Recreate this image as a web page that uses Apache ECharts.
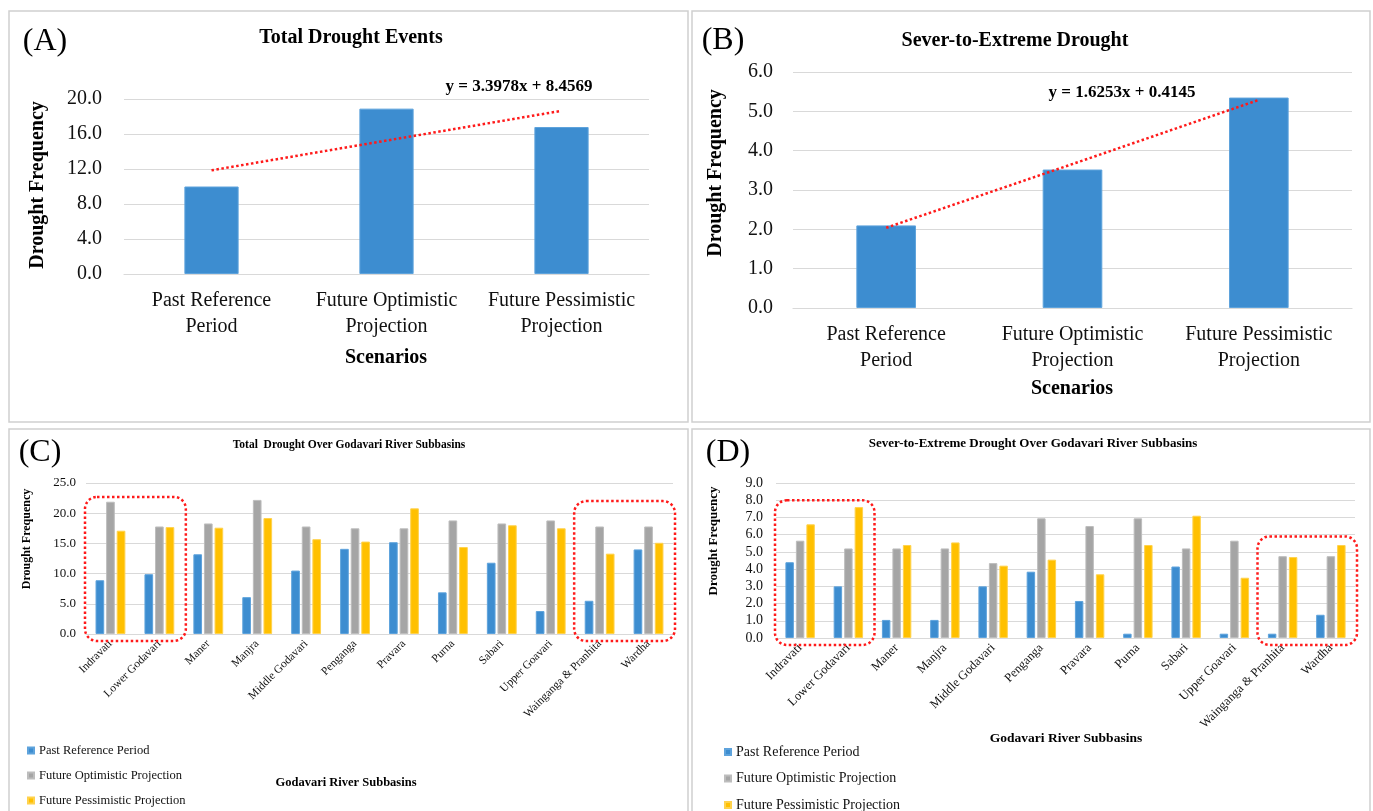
<!DOCTYPE html>
<html>
<head>
<meta charset="utf-8">
<script src="https://cdn.jsdelivr.net/npm/echarts@6/dist/echarts.min.js"></script>
<style>
  html, body { margin: 0; padding: 0; background: #fff; }
  #main { width: 1373px; height: 811px; }
</style>
</head>
<body>
<div id="main"></div>
<script>
// scenarios (panels A and B)
const scenarios = ['Past Reference\nPeriod', 'Future Optimistic\nProjection', 'Future Pessimistic\nProjection'];
const totalEvents = [10.0, 18.9, 16.8];
const totalTrend = [11.85, 15.25, 18.65];
const severeEvents = [2.1, 3.52, 5.35];
const severeTrend = [2.04, 3.66, 5.29];

// subbasins (panels C and D)
const subbasins = ['Indravati', 'Lower Godavari', 'Maner', 'Manjra', 'Middle Godavari', 'Penganga',
  'Pravara', 'Purna', 'Sabari', 'Upper Goavari', 'Wainganga & Pranhita', 'Wardha'];
const totalPast = [8.9, 9.9, 13.2, 6.1, 10.5, 14.1, 15.2, 6.9, 11.8, 3.8, 5.5, 14.0];
const totalOpt = [21.9, 17.8, 18.3, 22.2, 17.8, 17.5, 17.5, 18.8, 18.3, 18.8, 17.8, 17.8];
const totalPes = [17.1, 17.7, 17.6, 19.2, 15.7, 15.3, 20.8, 14.4, 18.0, 17.5, 13.3, 15.1];
const severePast = [4.4, 3.0, 1.05, 1.05, 3.0, 3.85, 2.15, 0.25, 4.15, 0.25, 0.25, 1.35];
const severeOpt = [5.65, 5.2, 5.2, 5.2, 4.35, 6.95, 6.5, 6.95, 5.2, 5.65, 4.75, 4.75];
const severePes = [6.6, 7.6, 5.4, 5.55, 4.2, 4.55, 3.7, 5.4, 7.1, 3.5, 4.7, 5.4];

const serieNames = ['Past Reference Period', 'Future Optimistic Projection', 'Future Pessimistic Projection'];
const FONT = '"Liberation Serif", "Times New Roman", serif';
const BLUE = '#3d8dd0', GRAY = '#a5a5a5', YELLOW = '#ffc000';

const chart = echarts.init(document.getElementById('main'));

function valAxis(grid, max, step, size, margin) {
  return {
    type: 'value', gridIndex: grid, min: 0, max: max, interval: step,
    axisLine: { show: false }, axisTick: { show: false },
    axisLabel: { fontFamily: FONT, fontSize: size, color: '#111', margin: margin,
      formatter: v => v.toFixed(1) },
    splitLine: { lineStyle: { color: '#d9d9d9', width: 1.2 } }
  };
}
function catAxis(grid, data, label) {
  return {
    type: 'category', gridIndex: grid, data: data,
    axisTick: { show: false },
    axisLine: { lineStyle: { color: '#d9d9d9', width: 1.2 } },
    axisLabel: Object.assign({ fontFamily: FONT, color: '#111', interval: 0 }, label)
  };
}
function bar(idx, name, data, color, border, gap, catGap) {
  return {
    type: 'bar', name: name, xAxisIndex: idx, yAxisIndex: idx, data: data,
    barGap: gap, barCategoryGap: catGap,
    itemStyle: { color: color, borderColor: border, borderWidth: 1 }
  };
}
function trend(idx, data) {
  return {
    type: 'line', xAxisIndex: idx, yAxisIndex: idx, data: data, symbol: 'none', z: 5,
    lineStyle: { color: '#ff1a1a', width: 2.5, type: [2.5, 2.5] }
  };
}

const option = {
  backgroundColor: '#fff',
  animation: false,
  grid: [
    { left: 124, top: 99, width: 525, height: 175 },
    { left: 793, top: 72, width: 559, height: 236 },
    { left: 86, top: 483, width: 587, height: 151 },
    { left: 776, top: 483, width: 579, height: 155 }
  ],
  xAxis: [
    catAxis(0, scenarios, { fontSize: 20, lineHeight: 26, margin: 14 }),
    catAxis(1, scenarios, { fontSize: 20, lineHeight: 26, margin: 14 }),
    catAxis(2, subbasins, { fontSize: 11.5, rotate: 45, margin: 8 }),
    catAxis(3, subbasins, { fontSize: 12.5, rotate: 45, margin: 8 })
  ],
  yAxis: [
    valAxis(0, 20, 4, 20, 22),
    valAxis(1, 6, 1, 20, 20),
    valAxis(2, 25, 5, 13, 10),
    valAxis(3, 9, 1, 14, 13)
  ],
  legend: [
    { data: serieNames, orient: 'vertical', left: 27, top: 744, height: 120, itemGap: 12,
      padding: 0, itemWidth: 6, itemHeight: 6, icon: 'rect',
      textStyle: { fontFamily: FONT, fontSize: 12.5, color: '#111' } },
    { data: serieNames, orient: 'vertical', left: 724, top: 745, height: 120, itemGap: 12.5,
      padding: 0, itemWidth: 6, itemHeight: 6, icon: 'rect',
      textStyle: { fontFamily: FONT, fontSize: 14, color: '#111' } }
  ],
  series: [
    bar(0, 'A', totalEvents, BLUE, '#5ea3dc', '0%', '69%'),
    trend(0, totalTrend),
    bar(1, 'B', severeEvents, BLUE, '#5ea3dc', '0%', '68%'),
    trend(1, severeTrend),
    bar(2, serieNames[0], totalPast, BLUE, '#5ea3dc', '22%', '39%'),
    bar(2, serieNames[1], totalOpt, GRAY, '#bdbdbd', '22%', '39%'),
    bar(2, serieNames[2], totalPes, YELLOW, '#ffd24d', '22%', '39%'),
    bar(3, serieNames[0], severePast, BLUE, '#5ea3dc', '24%', '39%'),
    bar(3, serieNames[1], severeOpt, GRAY, '#bdbdbd', '24%', '39%'),
    bar(3, serieNames[2], severePes, YELLOW, '#ffd24d', '24%', '39%')
  ]
};
chart.setOption(option);

// texts and frames
function txt(text, x, y, font, extra) {
  return Object.assign({ type: 'text', x: x, y: y, z: 10,
    style: { text: text, font: font, fill: '#000', textAlign: 'center', verticalAlign: 'middle' } }, extra || {});
}
function frame(x, y, w, h) {
  return { type: 'rect', z: 0, shape: { x: x, y: y, width: w, height: h },
    style: { fill: 'none', stroke: '#d0d0d0', lineWidth: 1.5 } };
}
const g = [
  frame(9, 11, 679, 411), frame(692, 11, 678, 411),
  frame(9, 429, 679, 400), frame(692, 429, 678, 400),
  txt('(A)', 45, 42, '32px ' + FONT),
  txt('(B)', 723, 41, '32px ' + FONT),
  txt('(C)', 40, 453, '32px ' + FONT),
  txt('(D)', 728, 453, '32px ' + FONT),
  txt('Total Drought Events', 351, 38, 'bold 20px ' + FONT),
  txt('Sever-to-Extreme Drought', 1015, 41, 'bold 20px ' + FONT),
  txt('Total  Drought Over Godavari River Subbasins', 349, 445, 'bold 11.5px ' + FONT),
  txt('Sever-to-Extreme Drought Over Godavari River Subbasins', 1033, 444, 'bold 13px ' + FONT),
  txt('Drought Frequency', 38, 185, 'bold 20px ' + FONT, { rotation: Math.PI / 2 }),
  txt('Drought Frequency', 716, 173, 'bold 20px ' + FONT, { rotation: Math.PI / 2 }),
  txt('Drought Frequency', 27, 539, 'bold 12px ' + FONT, { rotation: Math.PI / 2 }),
  txt('Drought Frequency', 714, 541, 'bold 13px ' + FONT, { rotation: Math.PI / 2 }),
  txt('Scenarios', 386, 358, 'bold 20px ' + FONT),
  txt('Scenarios', 1072, 389, 'bold 20px ' + FONT),
  txt('Godavari River Subbasins', 346, 783, 'bold 12.5px ' + FONT),
  txt('Godavari River Subbasins', 1066, 739, 'bold 13.5px ' + FONT),
  txt('y = 3.3978x + 8.4569', 519, 87, 'bold 17px ' + FONT),
  txt('y = 1.6253x + 0.4145', 1122, 93, 'bold 17px ' + FONT)
];

// dotted highlight boxes, placed through the axes
const boxes = [
  { grid: 2, from: 0, to: 1, top: 22.7 },
  { grid: 2, from: 10, to: 11, top: 22.0 },
  { grid: 3, from: 0, to: 1, top: 8.0 },
  { grid: 3, from: 10, to: 11, top: 5.9 }
];
boxes.forEach(b => {
  const a = chart.convertToPixel({ gridIndex: b.grid }, [b.from, b.top]);
  const a2 = chart.convertToPixel({ gridIndex: b.grid }, [b.from + 1, 0]);
  const c = chart.convertToPixel({ gridIndex: b.grid }, [b.to, 0]);
  const w = a2[0] - a[0];
  const x0 = a[0] - w / 2 - 1, x1 = c[0] + w / 2 + 2;
  const y0 = a[1], y1 = c[1] + 7;
  g.push({ type: 'rect', z: 20, shape: { x: x0, y: y0, width: x1 - x0, height: y1 - y0, r: 12 },
    style: { fill: 'none', stroke: '#ff1a1a', lineWidth: 2.5, lineDash: [2.5, 2.5] } });
});
chart.setOption({ graphic: g });
</script>
</body>
</html>
